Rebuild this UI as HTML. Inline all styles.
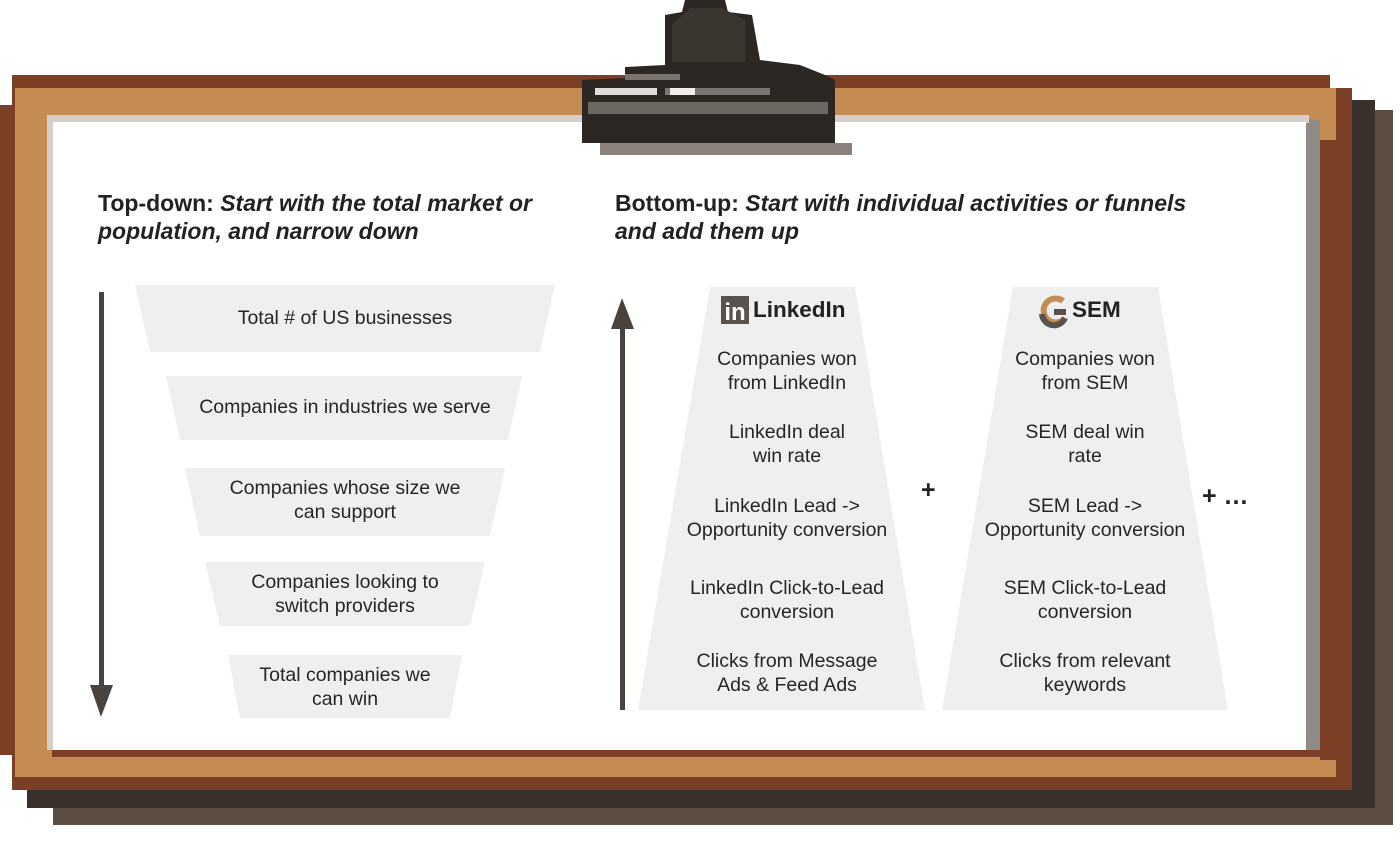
<!DOCTYPE html>
<html><head><meta charset="utf-8"><style>
body{margin:0;width:1400px;height:849px;background:#fff;overflow:hidden;position:relative;font-family:"Liberation Sans",sans-serif;color:#222}
.t{position:absolute;text-align:center;font-size:19.5px;line-height:24px;color:#262626}
.h{position:absolute;font-size:23px;line-height:28px;font-weight:bold;color:#222}
svg{position:absolute;left:0;top:0}
</style></head><body>
<svg width="1400" height="849">
  <rect x="53" y="110" width="1340" height="715" fill="#5b4d42"/>
  <rect x="27" y="100" width="1348" height="708" fill="#38302a"/>
  <rect x="12" y="88" width="1340" height="702" fill="#7a3f25"/>
  <rect x="12" y="75" width="1318" height="14" fill="#7a3f25"/>
  <rect x="0" y="105" width="15" height="650" fill="#7a3f25"/>
  <rect x="15" y="88" width="1321" height="689" fill="#c48c53"/>
  <rect x="1320" y="140" width="32" height="620" fill="#7a3f25"/>
  <rect x="1306" y="120" width="14" height="630" fill="#8e8a86"/>
  <rect x="47" y="115" width="1262" height="8" fill="#d4cfca"/>
  <rect x="47" y="115" width="6" height="635" fill="#d4cfca"/>
  <rect x="52" y="750" width="1268" height="7" fill="#7a3f25"/>
  <rect x="53" y="122" width="1253" height="628" fill="#fff"/>
  <g>
    <polygon points="685,0 725,0 728,12 752,15 760,60 800,65 825,75 835,80 835,143 582,143 582,80 625,78 625,67 665,65 665,15 682,12" fill="#2c2723"/>
    <polygon points="690,8 722,8 745,20 745,62 672,62 672,25" fill="#3b3530"/>
    <rect x="600" y="143" width="252" height="12" fill="#8a817a"/>
    <rect x="595" y="88" width="62" height="7" fill="#ddd"/>
    <rect x="665" y="88" width="105" height="7" fill="#777"/>
    <rect x="670" y="88" width="25" height="7" fill="#eee"/>
    <rect x="588" y="102" width="240" height="12" fill="#6e6863"/>
    <rect x="625" y="74" width="55" height="6" fill="#7a746f"/>
  </g>
  <g fill="#efefef">
    <polygon points="135,285 555,285 540,352 150,352"/>
    <polygon points="166,376 522,376 508,440 180,440"/>
    <polygon points="185,468 505,468 490,536 200,536"/>
    <polygon points="205,562 485,562 470,626 220,626"/>
    <polygon points="228,655 462,655 450,718 240,718"/>
    <polygon points="710,287 855,287 925,710 638,710"/>
    <polygon points="1013,287 1158,287 1228,710 942,710"/>
  </g>
  <g fill="#4a433d">
    <rect x="99" y="292" width="5" height="400"/>
    <polygon points="90,685 113,685 101,717"/>
  </g>
  <g fill="#4a433d">
    <rect x="620" y="325" width="5" height="385"/>
    <polygon points="611,329 634,329 622,298"/>
  </g>
  <g>
    <rect x="721" y="296" width="28" height="28" fill="#5a524c"/>
    <text x="735" y="320" font-size="24" font-weight="bold" fill="#fff" text-anchor="middle" font-family="Liberation Sans">in</text>
  </g>
  <g fill="none" stroke-width="6">
    <path d="M1063,301 A12,12 0 1 0 1065,318" stroke="#c48c53"/>
    <path d="M1042,314 A12,12 0 0 0 1065,318" stroke="#5a524c"/>
    <line x1="1054" y1="312" x2="1066" y2="312" stroke="#5a524c"/>
  </g>
</svg>
<div class="h" style="left:98px;top:189px">Top-down: <i>Start with the total market or<br>population, and narrow down</i></div>
<div class="h" style="left:615px;top:189px">Bottom-up: <i>Start with individual activities or funnels<br>and add them up</i></div>

<div class="t" style="left:135px;width:420px;top:306px">Total # of US businesses</div>
<div class="t" style="left:135px;width:420px;top:395px">Companies in industries we serve</div>
<div class="t" style="left:135px;width:420px;top:476px">Companies whose size we<br>can support</div>
<div class="t" style="left:135px;width:420px;top:570px">Companies looking to<br>switch providers</div>
<div class="t" style="left:135px;width:420px;top:663px">Total companies we<br>can win</div>

<div class="h" style="left:753px;top:296px;font-size:22.5px">LinkedIn</div>
<div class="h" style="left:1072px;top:296px;font-size:22.5px">SEM</div>

<div class="t" style="left:637px;width:300px;top:347px">Companies won<br>from LinkedIn</div>
<div class="t" style="left:637px;width:300px;top:420px">LinkedIn deal<br>win rate</div>
<div class="t" style="left:637px;width:300px;top:494px">LinkedIn Lead -&gt;<br>Opportunity conversion</div>
<div class="t" style="left:637px;width:300px;top:576px">LinkedIn Click-to-Lead<br>conversion</div>
<div class="t" style="left:637px;width:300px;top:649px">Clicks from Message<br>Ads &amp; Feed Ads</div>

<div class="t" style="left:935px;width:300px;top:347px">Companies won<br>from SEM</div>
<div class="t" style="left:935px;width:300px;top:420px">SEM deal win<br>rate</div>
<div class="t" style="left:935px;width:300px;top:494px">SEM Lead -&gt;<br>Opportunity conversion</div>
<div class="t" style="left:935px;width:300px;top:576px">SEM Click-to-Lead<br>conversion</div>
<div class="t" style="left:935px;width:300px;top:649px">Clicks from relevant<br>keywords</div>

<div class="h" style="left:921px;top:476px;font-size:25px">+</div>
<div class="h" style="left:1202px;top:482px;font-size:25px">+ …</div>
</body></html>
